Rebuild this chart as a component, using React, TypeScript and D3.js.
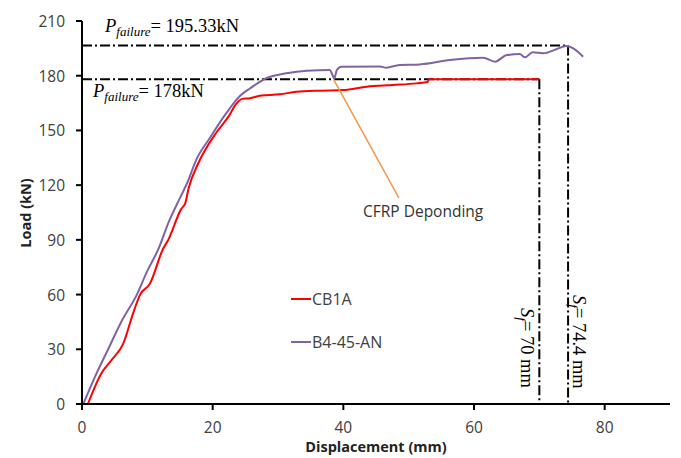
import React from "react";
import * as d3 from "d3";

const xTicks = [0, 20, 40, 60, 80];
const yTicks = [0, 30, 60, 90, 120, 150, 180, 210];

const cb1aX = [0.9, 3, 4.5, 6.3, 7.85, 8.9, 10.4, 12.4, 13.2, 15.2, 15.8, 16.3, 17.8, 20.6, 22.5, 23.6, 24.5, 25.7, 27.2, 30.3, 32.8, 36.4, 40, 43.6, 47.6, 51.2, 52.9, 53.1, 70];
const cb1aY = [0, 17, 24, 33, 50, 60, 66, 85, 90, 107, 110, 118, 132, 149, 158, 164.5, 167.3, 167.6, 169, 169.8, 171.2, 171.8, 172.1, 174, 174.9, 175.8, 176.5, 178, 178];

const b4X = [0.2, 2, 4, 6, 8.4, 10, 11.7, 13.3, 15, 16.2, 17.5, 19.6, 21.6, 22.6, 24.2, 25.7, 28.2, 31.3, 34.4, 37.9, 38.4, 38.6, 39, 39.7, 45.6, 46.6, 48.6, 51.7, 56.3, 61.4, 63.2, 65, 67, 67.8, 69, 70.6, 72.6, 74.1, 75.2, 76.7];
const b4Y = [0, 15, 30, 45, 60, 73, 85, 100, 113, 122, 134, 146, 157, 162, 169, 173, 178.6, 181.3, 182.7, 183.1, 180, 178.5, 183.1, 184.9, 185, 184.4, 185.9, 186.2, 188.6, 189.9, 187.7, 191.3, 191.9, 190.1, 192.8, 192.3, 194.5, 196.3, 195, 190.4];

const seriesNames = ["CB1A", "B4-45-AN"];
const seriesColors = ["#ff0000", "#8064a2"];

const failLoads = [196.5, 178];
const failLoadLabels = ["195.33kN", "178kN"];
const failDisp = [74.4, 70];
const failDispLabels = ["74.4 mm", "70 mm"];

const annotX = [38.5, 48.5];
const annotY = [178, 113];
const annotText = "CFRP Deponding";

export default function App() {
  const x = d3.scaleLinear().domain([0, 90]).range([82, 670]);
  const y = d3.scaleLinear().domain([0, 210]).range([404, 21]);
  const line = d3
    .line<[number, number]>()
    .x((d) => x(d[0]))
    .y((d) => y(d[1]))
    .curve(d3.curveMonotoneX);
  const cb1a = cb1aX.map((v, i) => [v, cb1aY[i]] as [number, number]);
  const b4 = b4X.map((v, i) => [v, b4Y[i]] as [number, number]);
  const dash = "10,3,2,3";
  const sans = "'Open Sans', sans-serif";
  const serif = "'Liberation Serif', 'Times New Roman', serif";
  const tickColor = "#404040";

  return (
    <svg
      width={681}
      height={458}
      style={{ position: "absolute", left: 0, top: 0, background: "#fff" }}
    >
      <rect x={0} y={0} width={681} height={458} fill="#fff" />
      {failLoads.map((v, i) => (
        <g key={"fl" + i}>
          <line
            x1={x(0)}
            x2={x(failDisp[i])}
            y1={y(v)}
            y2={y(v)}
            stroke="#000"
            strokeWidth={2}
            strokeDasharray={dash}
          />
          <line
            x1={x(failDisp[i])}
            x2={x(failDisp[i])}
            y1={y(v)}
            y2={y(0)}
            stroke="#000"
            strokeWidth={2}
            strokeDasharray={dash}
          />
        </g>
      ))}
      <path d={line(cb1a) || ""} fill="none" stroke={seriesColors[0]} strokeWidth={2} strokeLinejoin="round" />
      <path d={line(b4) || ""} fill="none" stroke={seriesColors[1]} strokeWidth={2} strokeLinejoin="round" />
      <line
        x1={x(annotX[0])}
        y1={y(annotY[0])}
        x2={x(annotX[1])}
        y2={y(annotY[1])}
        stroke="#f79646"
        strokeWidth={1.5}
      />
      <text x={363} y={217} fontFamily={sans} fontSize={15.5} fill="#333">
        {annotText}
      </text>
      <line x1={x(0)} x2={x(90)} y1={y(0)} y2={y(0)} stroke="#000" strokeWidth={2} />
      <line x1={x(0)} x2={x(0)} y1={y(0)} y2={y(210)} stroke="#000" strokeWidth={2} />
      {xTicks.map((t) => (
        <g key={"xt" + t}>
          <line x1={x(t)} x2={x(t)} y1={y(0)} y2={y(0) + 6} stroke="#000" strokeWidth={2} />
          <text x={x(t)} y={433} textAnchor="middle" fontFamily={sans} fontSize={15.5} fill={tickColor}>
            {t}
          </text>
        </g>
      ))}
      {yTicks.map((t) => (
        <g key={"yt" + t}>
          <line x1={x(0) - 6} x2={x(0)} y1={y(t)} y2={y(t)} stroke="#000" strokeWidth={2} />
          <text x={65} y={y(t) + 6} textAnchor="end" fontFamily={sans} fontSize={15.5} fill={tickColor}>
            {t}
          </text>
        </g>
      ))}
      <text x={376} y={452} textAnchor="middle" fontFamily={sans} fontSize={14.5} fontWeight="bold" fill="#222">
        Displacement (mm)
      </text>
      <text
        transform="translate(31,213) rotate(-90)"
        textAnchor="middle"
        fontFamily={sans}
        fontSize={14.5}
        fontWeight="bold"
        fill="#222"
      >
        Load (kN)
      </text>
      {seriesNames.map((n, i) => (
        <g key={n}>
          <line x1={291} x2={311} y1={299 + i * 43} y2={299 + i * 43} stroke={seriesColors[i]} strokeWidth={2} />
          <text x={312} y={305 + i * 43} fontFamily={sans} fontSize={16} fill={tickColor}>
            {n}
          </text>
        </g>
      ))}
      <text x={105} y={32} fontFamily={serif} fontSize={18.5} fill="#000">
        <tspan fontStyle="italic">P</tspan>
        <tspan fontStyle="italic" fontSize={13} dy={4}>failure</tspan>
        <tspan dy={-4}>= {failLoadLabels[0]}</tspan>
      </text>
      <text x={93} y={97} fontFamily={serif} fontSize={18.5} fill="#000">
        <tspan fontStyle="italic">P</tspan>
        <tspan fontStyle="italic" fontSize={13} dy={4}>failure</tspan>
        <tspan dy={-4}>= {failLoadLabels[1]}</tspan>
      </text>
      <text transform="translate(573,295) rotate(90)" fontFamily={serif} fontSize={18.5} fill="#000">
        <tspan fontStyle="italic">S</tspan>
        <tspan fontStyle="italic" fontSize={13} dy={4}>f</tspan>
        <tspan dy={-4}>= {failDispLabels[0]}</tspan>
      </text>
      <text transform="translate(521,308) rotate(90)" fontFamily={serif} fontSize={18.5} fill="#000">
        <tspan fontStyle="italic">S</tspan>
        <tspan fontStyle="italic" fontSize={13} dy={4}>f</tspan>
        <tspan dy={-4}>= {failDispLabels[1]}</tspan>
      </text>
    </svg>
  );
}
